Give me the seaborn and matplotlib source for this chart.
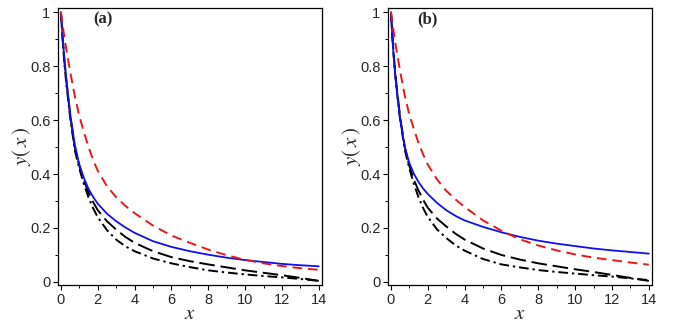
import matplotlib
matplotlib.use("Agg")
import matplotlib.pyplot as plt
import seaborn as sns
from matplotlib.ticker import MultipleLocator

# sample abscissae
x_vals = [0, 0.1, 0.2, 0.3, 0.5, 0.75, 1, 1.25, 1.5, 1.75, 2, 2.5, 3, 3.5, 4, 5, 6, 7, 8, 9, 10,
          11, 12, 13, 14]

# panel (a)
a_blue = [1.0, 0.9, 0.82, 0.75, 0.625, 0.51, 0.435, 0.385, 0.345, 0.315, 0.29, 0.253, 0.225, 0.202,
          0.182, 0.151, 0.130, 0.114, 0.101, 0.090, 0.081, 0.074, 0.067, 0.062, 0.058]
a_red = [1.0, 0.95, 0.9, 0.86, 0.78, 0.69, 0.615, 0.555, 0.50, 0.452, 0.412, 0.355, 0.314, 0.282,
         0.255, 0.209, 0.172, 0.145, 0.120, 0.099, 0.082, 0.069, 0.059, 0.051, 0.045]
a_dash = [1.0, 0.9, 0.81, 0.74, 0.62, 0.5, 0.43, 0.375, 0.332, 0.296, 0.266, 0.225, 0.194, 0.167,
          0.145, 0.114, 0.092, 0.077, 0.065, 0.054, 0.043, 0.034, 0.025, 0.015, 0.004]
a_dashdot = [1.0, 0.89, 0.8, 0.73, 0.61, 0.49, 0.42, 0.362, 0.313, 0.273, 0.24, 0.192, 0.157, 0.132,
             0.114, 0.087, 0.069, 0.055, 0.043, 0.035, 0.028, 0.022, 0.017, 0.011, 0.004]

# panel (b)
b_blue = [1.0, 0.88, 0.79, 0.72, 0.6, 0.5, 0.44, 0.40, 0.37, 0.346, 0.326, 0.293, 0.266, 0.245,
          0.228, 0.204, 0.184, 0.167, 0.153, 0.142, 0.133, 0.124, 0.117, 0.111, 0.105]
b_red = [1.0, 0.95, 0.9, 0.86, 0.78, 0.69, 0.62, 0.565, 0.515, 0.472, 0.435, 0.38, 0.338, 0.306,
         0.278, 0.228, 0.19, 0.158, 0.135, 0.117, 0.102, 0.09, 0.081, 0.072, 0.064]
b_dash = [1.0, 0.89, 0.8, 0.73, 0.61, 0.5, 0.43, 0.378, 0.338, 0.304, 0.275, 0.235, 0.206, 0.179,
          0.157, 0.124, 0.1, 0.083, 0.069, 0.058, 0.047, 0.037, 0.026, 0.015, 0.004]
b_dashdot = [1.0, 0.88, 0.79, 0.72, 0.6, 0.49, 0.42, 0.362, 0.313, 0.273, 0.241, 0.195, 0.163, 0.136,
             0.116, 0.085, 0.065, 0.054, 0.044, 0.037, 0.031, 0.025, 0.02, 0.013, 0.007]

panel_labels = ['(a)', '(b)']
x_ticks = [0, 2, 4, 6, 8, 10, 12, 14]
y_ticks = [0, 0.2, 0.4, 0.6, 0.8, 1]
y_tick_labels = ['0', '0.2', '0.4', '0.6', '0.8', '1']

sns.set_style('ticks')
plt.rcParams['font.family'] = ['Liberation Sans', 'DejaVu Sans']
plt.rcParams['mathtext.fontset'] = 'stix'

fig = plt.figure(figsize=(6.78, 3.26), dpi=100)
ax_a = fig.add_axes([0.0855, 0.126, 0.389, 0.850])
ax_b = fig.add_axes([0.5723, 0.126, 0.389, 0.850])

panels = [
    (ax_a, a_blue, a_red, a_dash, a_dashdot, 2.3),
    (ax_b, b_blue, b_red, b_dash, b_dashdot, 2.0),
]

for i, (ax, blue, red, dash, dashdot, lab_x) in enumerate(panels):
    # black curves underneath
    sns.lineplot(x=x_vals, y=dashdot, ax=ax, color='black', lw=1.4,
                 linestyle=(0, (5, 2, 1.2, 2)))
    sns.lineplot(x=x_vals, y=dash, ax=ax, color='black', lw=1.4,
                 linestyle=(0, (8, 3)))
    sns.lineplot(x=x_vals, y=blue, ax=ax, color='#1010ee', lw=1.3)
    sns.lineplot(x=x_vals, y=red, ax=ax, color='#e81818', lw=1.4,
                 linestyle=(0, (5, 3)))

    ax.set_xlim(-0.16, 14.16)
    ax.set_ylim(-0.011, 1.016)
    ax.set_xticks(x_ticks)
    ax.set_yticks(y_ticks)
    ax.set_yticklabels(y_tick_labels)
    ax.xaxis.set_minor_locator(MultipleLocator(1))
    ax.yaxis.set_minor_locator(MultipleLocator(0.1))
    ax.tick_params(which='major', direction='out', length=3.5, width=0.8,
                   color='black', labelsize=10.5, pad=2)
    ax.tick_params(which='minor', direction='out', length=2, width=0.7, color='black')
    for s in ax.spines.values():
        s.set_color('black')
        s.set_linewidth(0.9)

    ax.set_xlabel('$x$', fontsize=15, labelpad=-2)
    ax.set_ylabel(r'$y(\,x\,)$', fontsize=15, labelpad=-2)
    ax.text(lab_x, 0.972, panel_labels[i], ha='center', va='center',
            fontsize=12, fontweight='bold', family='Liberation Serif')

fig.savefig('out.png', dpi=100)
